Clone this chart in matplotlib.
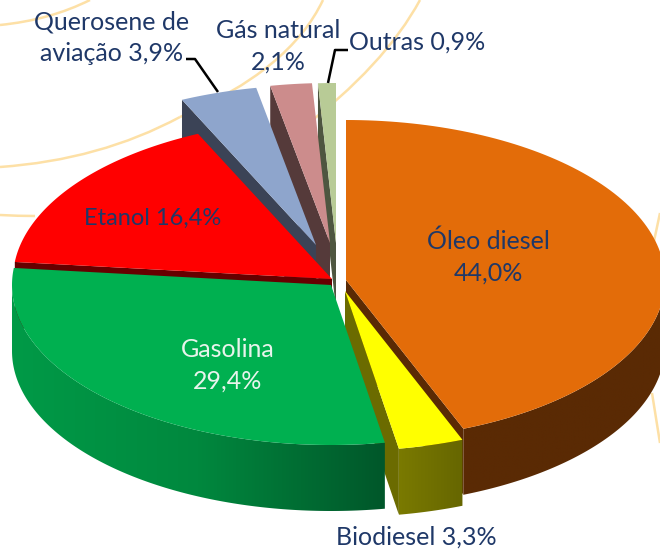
import numpy as np
import matplotlib
matplotlib.use('Agg')
import matplotlib.pyplot as plt
from matplotlib.colors import to_rgb
from matplotlib.patches import Polygon, PathPatch
from matplotlib.path import Path

# values, clockwise from the top of the pie
names = ['Óleo diesel', 'Biodiesel', 'Gasolina', 'Etanol', 'Querosene de aviação', 'Gás natural', 'Outras']
values = [44.0, 3.3, 29.4, 16.4, 3.9, 2.1, 0.9]

top_colors = ['#E36C09', '#FFFF00', '#00B050', '#FF0000', '#8EA5CC', '#CC8C8C', '#B8CB96']
cut_colors = ['#5A2A04', '#6B6B00', '#004D26', '#660000', '#3B4356', '#553A3A', '#4E5640']
# rim colour going from the left end of the rim to the right end
rim_colors = [['#5A2A04', '#5A2A04'], ['#7A7A00', '#666600'], ['#009A47', '#00883E', '#00572A'],
              ['#660000', '#660000'], ['#3B4356', '#3B4356'], ['#553A3A', '#553A3A'], ['#4E5640', '#4E5640']]

# apex of each slice on the picture (pixels), exploded by hand
apex_x = [346, 345, 331, 332, 316, 330, 336]
apex_y = [280, 291, 285, 279, 245, 243, 243]
rx = 319
ry = 160
depth = 66

# order of drawing, back to front
draw_order = [6, 5, 4, 3, 0, 1, 2]

# pale curves of the slide behind the chart: start, control point, end
curves = [
    [(0, 25), (50, 20), (90, 0)],
    [(0, 167), (100, 160), (180, 117)],
    [(180, 117), (290, 70), (323, 0)],
    [(0, 215), (18, 216), (35, 216)],
    [(300, 130), (385, 65), (420, 0)],
    [(652, 393), (656, 418), (660, 443)],
    [(660, 213), (656, 232), (652, 250)],
]

text_color = '#1F3868'
plt.rcParams['font.family'] = ['Lato', 'DejaVu Sans']


def mix_color(stops, f):
    stops = np.array([to_rgb(c) for c in stops])
    pos = np.linspace(0, 1, len(stops))
    return np.column_stack([np.interp(f, pos, stops[:, k]) for k in range(3)])


def rim_point(cx, cy, t):
    return cx + rx * np.sin(t), cy - ry * np.cos(t)


fig = plt.figure(figsize=(6.6, 5.52), dpi=100)
ax = fig.add_axes([0, 0, 1, 1])
ax.axis('off')

for curve in curves:
    path = Path(curve, [Path.MOVETO, Path.CURVE3, Path.CURVE3])
    ax.add_patch(PathPatch(path, fc='none', ec='#FDE0A6', lw=1.8, zorder=1))

edges = np.radians(np.concatenate([[0], np.cumsum(values)]) * 3.6)

z = 2
for i in draw_order:
    cx, cy = apex_x[i], apex_y[i]
    t0, t1 = edges[i], edges[i + 1]

    # cut faces, only the ones turned to the viewer
    if np.sin(t0) < -1e-6:
        px, py = rim_point(cx, cy, t0)
        ax.add_patch(Polygon([(cx, cy), (px, py), (px, py + depth), (cx, cy + depth)],
                             fc=cut_colors[i], ec='none', zorder=z))
    if np.sin(t1) > 1e-6:
        px, py = rim_point(cx, cy, t1)
        ax.add_patch(Polygon([(cx, cy), (px, py), (px, py + depth), (cx, cy + depth)],
                             fc=cut_colors[i], ec='none', zorder=z))

    # outer rim, a horizontal gradient clipped to the rim shape
    lo = max(t0, np.pi / 2)
    hi = min(t1, 3 * np.pi / 2)
    if hi > lo:
        ts = np.linspace(lo, hi, 120)
        xs, ys = rim_point(cx, cy, ts)
        pts = list(zip(xs, ys)) + list(zip(xs[::-1], ys[::-1] + depth))
        rim = Polygon(pts, fc='none', ec='none', zorder=z)
        ax.add_patch(rim)
        grad = mix_color(rim_colors[i], np.linspace(0, 1, 256)).reshape(1, 256, 3)
        im = ax.imshow(grad, extent=[xs.min(), xs.max(), ys.max() + depth, ys.min()],
                       aspect='auto', interpolation='bilinear', zorder=z)
        im.set_clip_path(rim)

    # top of the slice
    ts = np.linspace(t0, t1, 120)
    xs, ys = rim_point(cx, cy, ts)
    pts = [(cx, cy)] + list(zip(xs, ys))
    ax.add_patch(Polygon(pts, fc=top_colors[i], ec='none', zorder=z + 0.5))
    z += 1

ax.set_xlim(0, 660)
ax.set_ylim(552, 0)

# leader lines
ax.plot([186, 195, 218], [59, 59, 92], color='black', lw=1.8, zorder=30, solid_capstyle='butt')
ax.plot([348, 335, 328], [50, 50, 83], color='black', lw=1.8, zorder=30, solid_capstyle='butt')

labels = [
    (112, 38, 'Querosene de\naviação %s%%' % '3,9', text_color, 18),
    (278, 46, 'Gás natural\n%s%%' % '2,1', text_color, 18),
    (417, 42, 'Outras %s%%' % '0,9', text_color, 18),
    (153, 218, 'Etanol %s%%' % '16,4', text_color, 17),
    (488, 257, 'Óleo diesel\n%s%%' % '44,0', text_color, 18),
    (228, 365, 'Gasolina\n%s%%' % '29,4', '#E8F4EC', 18),
    (416, 537, 'Biodiesel %s%%' % '3,3', text_color, 18),
]
for x, y, s, col, fs in labels:
    ax.text(x, y, s, color=col, fontsize=fs, ha='center', va='center', linespacing=1.45, zorder=40)

fig.savefig('out.png', dpi=100)
